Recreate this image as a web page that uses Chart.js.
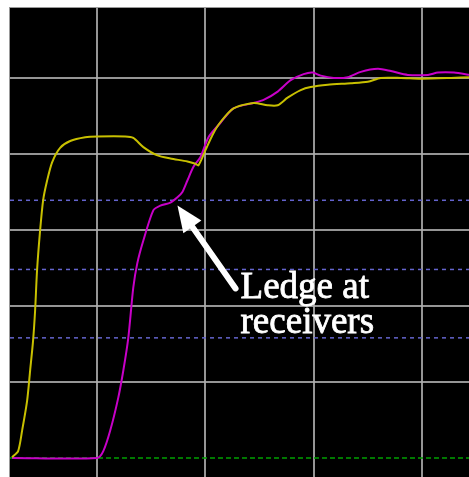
<!DOCTYPE html>
<html>
<head>
<meta charset="utf-8">
<script src="https://cdn.jsdelivr.net/npm/chart.js@4"></script>
<style>
    html, body { margin: 0; padding: 0; background: #fff; }
    #wrap {
        position: absolute; left: 9px; top: 7px;
        border-left: 1px solid #999; border-top: 1px solid #999;
        width: 460px; height: 470px;
    }
    #scope { display: block; background: #000; }
</style>
</head>
<body>
<div id="wrap"><canvas id="scope" width="460" height="470"></canvas></div>
<script>
// time in screen divisions, voltage in vertical divisions
const yellowTime = [0.213, 0.269, 0.306, 0.352, 0.380, 0.407, 0.426, 0.444, 0.472, 0.500, 0.537, 0.583, 0.657, 0.750, 0.889, 1.000, 1.259, 1.333, 1.426, 1.556, 1.676, 1.833, 1.907, 1.935, 2.000, 2.065, 2.139, 2.259, 2.444, 2.574, 2.667, 2.759, 2.880, 2.972, 3.130, 3.343, 3.500, 3.620, 3.806, 3.991, 4.269, 4.444];
const yellowVolt = [0.01, 0.09, 0.36, 0.75, 1.15, 1.54, 1.94, 2.47, 2.99, 3.39, 3.65, 3.89, 4.08, 4.17, 4.22, 4.23, 4.23, 4.21, 4.09, 3.98, 3.94, 3.90, 3.87, 3.85, 4.05, 4.25, 4.42, 4.60, 4.67, 4.64, 4.64, 4.74, 4.84, 4.88, 4.91, 4.93, 4.95, 5.00, 5.00, 4.99, 5.00, 5.01];

const magentaTime = [0.213, 1.000, 1.056, 1.120, 1.194, 1.241, 1.287, 1.333, 1.370, 1.426, 1.519, 1.583, 1.676, 1.741, 1.787, 1.833, 1.889, 1.954, 2.028, 2.139, 2.259, 2.444, 2.537, 2.667, 2.787, 2.907, 2.991, 3.065, 3.185, 3.315, 3.435, 3.593, 3.713, 3.870, 4.056, 4.148, 4.296, 4.444];
const magentaVolt = [0, 0, 0.09, 0.36, 0.79, 1.15, 1.58, 2.24, 2.56, 2.86, 3.26, 3.32, 3.36, 3.43, 3.50, 3.65, 3.83, 3.96, 4.22, 4.41, 4.60, 4.67, 4.71, 4.82, 4.97, 5.05, 5.07, 5.03, 5.00, 5.01, 5.08, 5.12, 5.09, 5.04, 5.04, 5.07, 5.07, 5.04];

const thresholdLevels = [3.39, 2.48, 1.58];
const groundLevel = 0;

const xGrid = [1, 2, 3, 4];
const yGrid = [1, 2, 3, 4, 5];
const xMin = 0.194, xMax = 4.444;
const yMin = -0.264, yMax = 5.92;

const noteLines = ['Ledge at', 'receivers'];

function pairs(xs, ys) {
    return xs.map((x, i) => ({ x: x, y: ys[i] }));
}

function hline(level, color, dash) {
    return {
        data: [{ x: xMin, y: level }, { x: xMax, y: level }],
        borderColor: color,
        borderWidth: 1.5,
        borderDash: dash,
        pointRadius: 0,
        order: 5
    };
}

const annotation = {
    id: 'annotation',
    afterDatasetsDraw(chart) {
        const ctx = chart.ctx;
        const xs = chart.scales.x, ys = chart.scales.y;
        // arrow from the label up to the ledge
        const tipX = xs.getPixelForValue(1.741), tipY = ys.getPixelForValue(3.32);
        const tailX = xs.getPixelForValue(2.278), tailY = ys.getPixelForValue(2.23);
        const ang = Math.atan2(tailY - tipY, tailX - tipX);
        const headLen = 26, headHalf = 11;
        const bx = tipX + Math.cos(ang) * headLen, by = tipY + Math.sin(ang) * headLen;
        ctx.save();
        ctx.strokeStyle = '#fff';
        ctx.fillStyle = '#fff';
        ctx.lineWidth = 6;
        ctx.lineCap = 'round';
        ctx.beginPath();
        ctx.moveTo(bx, by);
        ctx.lineTo(tailX, tailY);
        ctx.stroke();
        ctx.beginPath();
        ctx.moveTo(tipX, tipY);
        ctx.lineTo(bx - Math.sin(ang) * headHalf, by + Math.cos(ang) * headHalf);
        ctx.lineTo(bx + Math.sin(ang) * headHalf, by - Math.cos(ang) * headHalf);
        ctx.closePath();
        ctx.fill();

        ctx.font = '37px "Liberation Serif", "Times New Roman", serif';
        ctx.textBaseline = 'alphabetic';
        ctx.lineWidth = 0.8;
        const textX = xs.getPixelForValue(2.324);
        noteLines.forEach((line, i) => {
            const ty = ys.getPixelForValue(i === 0 ? 2.10 : 1.64);
            ctx.fillText(line, textX, ty);
            ctx.strokeText(line, textX, ty);
        });
        ctx.restore();
    }
};

const ctx = document.getElementById('scope').getContext('2d');
const scopeChart = new Chart(ctx, {
    type: 'line',
    data: {
        datasets: [
            {
                label: 'Driver',
                data: pairs(yellowTime, yellowVolt),
                borderColor: 'rgb(200, 192, 0)',
                borderWidth: 2,
                pointRadius: 0,
                tension: 0.25,
                order: 1
            },
            {
                label: 'Receiver',
                data: pairs(magentaTime, magentaVolt),
                borderColor: 'rgb(200, 0, 200)',
                borderWidth: 2,
                pointRadius: 0,
                tension: 0.25,
                order: 2
            },
            ...thresholdLevels.map(v => hline(v, 'rgb(100, 100, 205)', [4, 4])),
            hline(groundLevel, 'rgb(0, 160, 0)', [5, 3])
        ]
    },
    options: {
        responsive: false,
        animation: false,
        layout: { padding: 0 },
        plugins: {
            legend: { display: false },
            tooltip: { enabled: false }
        },
        scales: {
            x: {
                type: 'linear',
                min: xMin,
                max: xMax,
                afterBuildTicks: axis => { axis.ticks = xGrid.map(v => ({ value: v })); },
                ticks: { display: false },
                grid: { color: 'rgba(175, 175, 175, 0.85)', lineWidth: 2, drawTicks: false },
                border: { display: false }
            },
            y: {
                type: 'linear',
                min: yMin,
                max: yMax,
                afterBuildTicks: axis => { axis.ticks = yGrid.map(v => ({ value: v })); },
                ticks: { display: false },
                grid: { color: 'rgba(175, 175, 175, 0.85)', lineWidth: 2, drawTicks: false },
                border: { display: false }
            }
        }
    },
    plugins: [annotation]
});
</script>
</body>
</html>
